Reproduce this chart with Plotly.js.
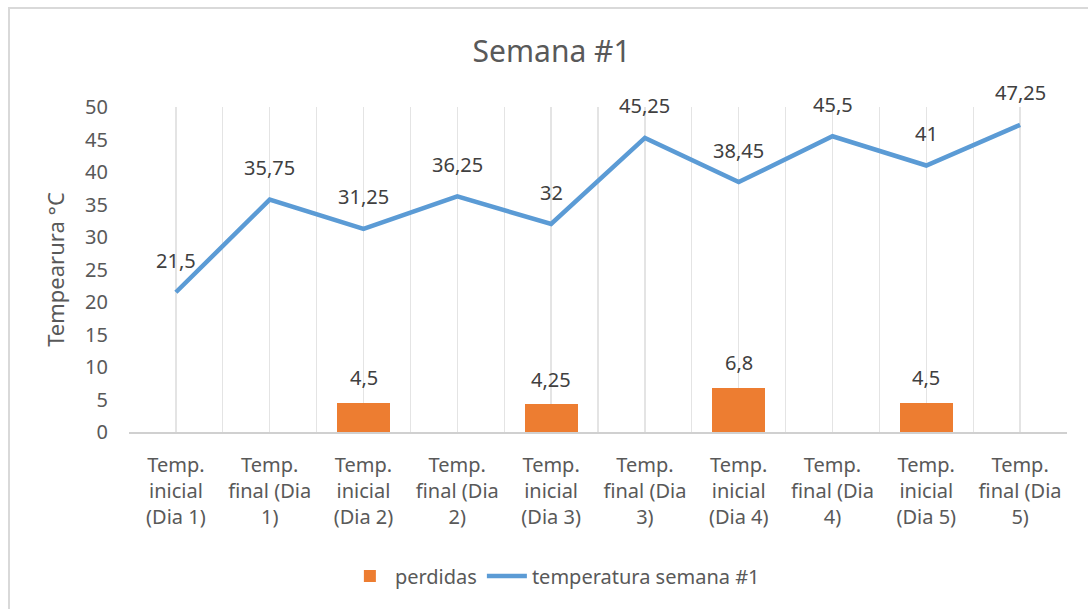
<!DOCTYPE html>
<html>
<head>
<meta charset="utf-8">
<script src="https://cdn.plot.ly/plotly-3.0.1.min.js"></script>
<style>
html,body{margin:0;padding:0;background:#fff;overflow:hidden;}
#chart{width:1088px;height:609px;position:absolute;left:0;top:0;}
#frame{position:absolute;left:8px;top:7px;width:1100px;height:620px;border:2px solid #d9d9d9;box-sizing:border-box;pointer-events:none;}
</style>
</head>
<body>
<div id="chart"></div>
<div id="frame"></div>
<script>
const categories = [
  "Temp.<br>inicial<br>(Dia 1)", "Temp.<br>final (Dia<br>1)",
  "Temp.<br>inicial<br>(Dia 2)", "Temp.<br>final (Dia<br>2)",
  "Temp.<br>inicial<br>(Dia 3)", "Temp.<br>final (Dia<br>3)",
  "Temp.<br>inicial<br>(Dia 4)", "Temp.<br>final (Dia<br>4)",
  "Temp.<br>inicial<br>(Dia 5)", "Temp.<br>final (Dia<br>5)"
];
const perdidas = [null, null, 4.5, null, 4.25, null, 6.8, null, 4.5, null];
const temperatura = [21.5, 35.75, 31.25, 36.25, 32, 45.25, 38.45, 45.5, 41, 47.25];
const yTicks = [0, 5, 10, 15, 20, 25, 30, 35, 40, 45, 50];

const FONT = "Noto Sans, Open Sans, sans-serif";
const idx = categories.map((c, i) => i);
const fmt = v => String(v).replace('.', ',');

const barTrace = {
  type: 'bar', name: 'perdidas', x: idx, y: perdidas,
  marker: {color: '#ED7D31'}, width: 0.565, hoverinfo: 'skip'
};
const lineTrace = {
  type: 'scatter', mode: 'lines', name: 'temperatura semana #1', x: idx, y: temperatura,
  line: {color: '#5B9BD5', width: 4.5}, hoverinfo: 'skip'
};

const annotations = [];
temperatura.forEach((v, i) => {
  annotations.push({x: i, y: v, xref: 'x', yref: 'y', text: fmt(v), showarrow: false,
    yanchor: 'middle', yshift: 32, font: {family: FONT, size: 20, color: '#404040'}});
});
perdidas.forEach((v, i) => {
  if (v === null) return;
  annotations.push({x: i, y: v, xref: 'x', yref: 'y', text: fmt(v), showarrow: false,
    yanchor: 'middle', yshift: 25, font: {family: FONT, size: 20, color: '#404040'}});
});

const layout = {
  width: 1088, height: 609,
  margin: {l: 129, r: 21, t: 107, b: 177},
  paper_bgcolor: '#ffffff', plot_bgcolor: '#ffffff',
  separators: ',.',
  font: {family: FONT, color: '#595959'},
  title: {text: 'Semana #1', x: 0.507, xanchor: 'center', y: 0.915, yanchor: 'middle',
    font: {family: FONT, size: 30, color: '#595959'}},
  showlegend: true,
  legend: {orientation: 'h', xref: 'container', yref: 'container', x: 0.51, xanchor: 'center',
    y: 0.054, yanchor: 'middle', font: {family: FONT, size: 20, color: '#595959'},
    traceorder: 'normal', itemwidth: 40},
  bargap: 0,
  xaxis: {
    type: 'linear', range: [-0.5, 9.5], tickmode: 'array', tickvals: idx, ticktext: categories,
    showgrid: true, gridcolor: '#e4e4e4', gridwidth: 1.3,
    minor: {showgrid: true, tickmode: 'linear', tick0: -0.5, dtick: 1, gridcolor: '#e4e4e4', gridwidth: 1.3},
    showline: true, linecolor: '#d0d0d0', linewidth: 1.5,
    ticks: '', zeroline: false,
    tickfont: {family: FONT, size: 20, color: '#595959'}, ticklabelstandoff: 14, fixedrange: true
  },
  yaxis: {
    range: [0, 50], tickmode: 'array', tickvals: yTicks, ticktext: yTicks.map(String),
    showgrid: false, zeroline: false, showline: false, ticks: '',
    tickfont: {family: FONT, size: 20, color: '#595959'}, ticklabelstandoff: 20,
    title: {text: 'Tempearura °C', font: {family: FONT, size: 22, color: '#595959'}, standoff: 14},
    fixedrange: true
  },
  annotations: annotations
};

Plotly.newPlot('chart', [barTrace, lineTrace], layout, {staticPlot: true, displayModeBar: false});
</script>
</body>
</html>
